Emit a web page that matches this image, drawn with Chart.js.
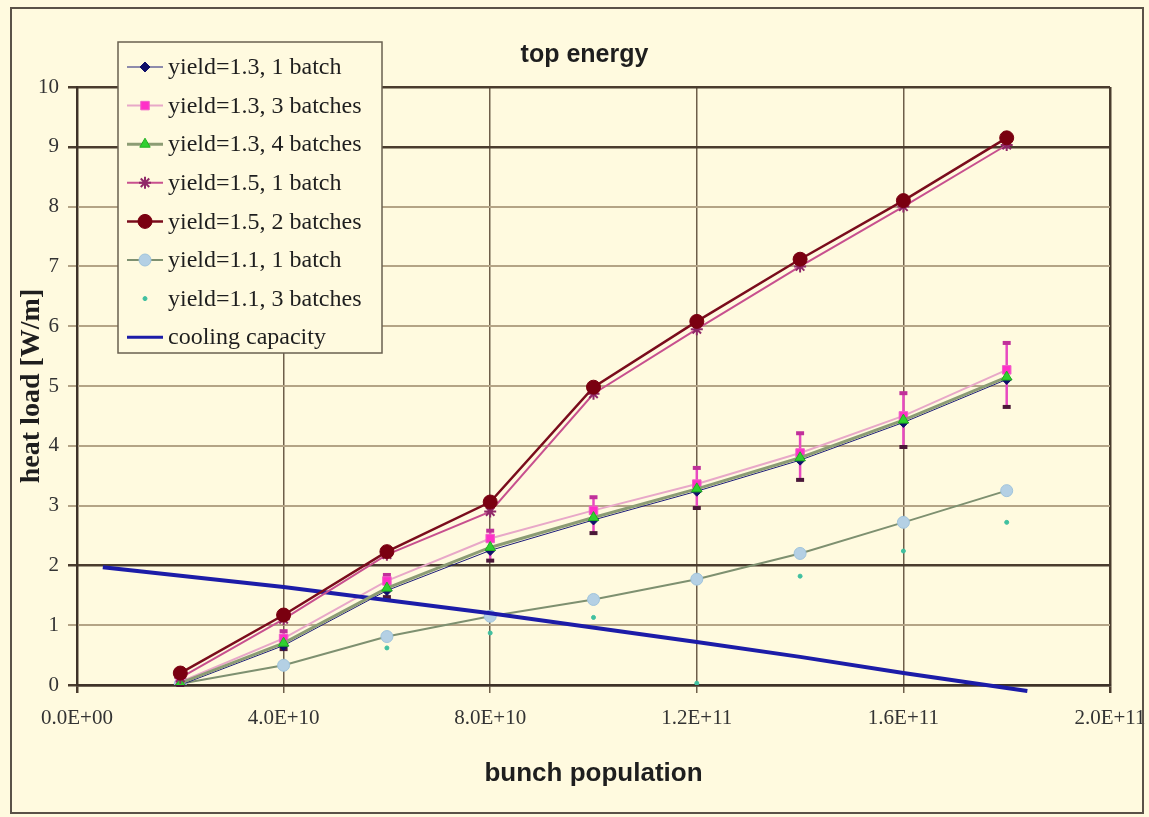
<!DOCTYPE html>
<html>
<head>
<meta charset="utf-8">
<title>top energy</title>
<script src="https://cdn.jsdelivr.net/npm/chart.js@4.4.1/dist/chart.umd.min.js"></script>
<style>
  html, body { margin: 0; padding: 0; background: #fffadf; }
  #wrap { width: 1149px; height: 817px; }
</style>
</head>
<body>
<div id="wrap"><canvas id="heatChart" width="1149" height="817"></canvas></div>
<script>
// bunch population (x) and heat load [W/m] per case
const bunchPop = [2e10, 4e10, 6e10, 8e10, 1e11, 1.2e11, 1.4e11, 1.6e11, 1.8e11];

const y13batch1 = [0.0, 0.66, 1.58, 2.25, 2.76, 3.24, 3.76, 4.39, 5.11];
const y13batch3 = [0.05, 0.78, 1.74, 2.45, 2.92, 3.36, 3.88, 4.5, 5.27];
const y13batch4 = [0.03, 0.7, 1.62, 2.3, 2.8, 3.28, 3.8, 4.43, 5.15];
const y15batch1 = [0.12, 1.1, 2.18, 2.9, 4.87, 5.95, 7.0, 8.0, 9.03];
const y15batch2 = [0.2, 1.17, 2.23, 3.06, 4.98, 6.08, 7.12, 8.1, 9.15];
const y11batch1 = [0.02, 0.33, 0.81, 1.15, 1.43, 1.77, 2.2, 2.72, 3.25];
const y11batch3 = [0.0, 0.27, 0.62, 0.87, 1.13, 0.03, 1.82, 2.24, 2.72];

// spread shown on the yield=1.3, 3 batches points
const errLow  = [0.0, 0.6, 1.47, 2.08, 2.54, 2.96, 3.43, 3.98, 4.65];
const errHigh = [0.1, 0.9, 1.84, 2.58, 3.14, 3.63, 4.21, 4.88, 5.72];

const coolingX = [0.5e10, 4e10, 8e10, 1.2e11, 1.4e11, 1.6e11, 1.84e11];
const coolingY = [1.97, 1.64, 1.2, 0.72, 0.47, 0.2, -0.1];

const xTickLabels = ['0.0E+00', '4.0E+10', '8.0E+10', '1.2E+11', '1.6E+11', '2.0E+11'];
const darkRows = [0, 2, 9, 10];
const chartTitle = 'top energy';

const pts = (xs, ys) => xs.map((x, i) => ({ x: x, y: ys[i] }));

const bgPlugin = {
  id: 'bg',
  beforeDraw(chart) {
    const ctx = chart.ctx;
    ctx.save();
    ctx.fillStyle = '#fffadf';
    ctx.fillRect(0, 0, chart.width, chart.height);
    ctx.restore();
  }
};

const errorBars = {
  id: 'errorBars',
  beforeDatasetsDraw(chart) {
    const ctx = chart.ctx;
    const xs = chart.scales.x, ys = chart.scales.y;
    ctx.save();
    bunchPop.forEach((b, i) => {
      const px = xs.getPixelForValue(b);
      const lo = ys.getPixelForValue(errLow[i]);
      const hi = ys.getPixelForValue(errHigh[i]);
      ctx.strokeStyle = '#e848c0';
      ctx.lineWidth = 2.5;
      ctx.beginPath();
      ctx.moveTo(px, lo);
      ctx.lineTo(px, hi);
      ctx.stroke();
      ctx.lineWidth = 4;
      ctx.strokeStyle = '#c0309a';
      ctx.beginPath();
      ctx.moveTo(px - 4, hi);
      ctx.lineTo(px + 4, hi);
      ctx.stroke();
      ctx.strokeStyle = '#4a1838';
      ctx.beginPath();
      ctx.moveTo(px - 4, lo);
      ctx.lineTo(px + 4, lo);
      ctx.stroke();
    });
    ctx.restore();
  }
};

const frameAndLegend = {
  id: 'frameAndLegend',
  afterDraw(chart) {
    const ctx = chart.ctx;
    const area = chart.chartArea;
    ctx.save();
    ctx.strokeStyle = '#5a5248';
    ctx.lineWidth = 2;
    ctx.strokeRect(11, 8, 1132, 805);

    // title, a little left of the plot centre as in the original
    ctx.fillStyle = '#1e1e1e';
    ctx.font = 'bold 25px "Liberation Sans", Arial, sans-serif';
    ctx.textAlign = 'center';
    ctx.textBaseline = 'middle';
    ctx.fillText(chartTitle, (area.left + area.right) / 2 - 9, 55);

    ctx.fillStyle = '#fffadf';
    ctx.fillRect(118, 42, 264, 311);
    ctx.strokeStyle = '#6a6050';
    ctx.lineWidth = 1.5;
    ctx.strokeRect(118, 42, 264, 311);

    ctx.font = '24px "Liberation Serif", "DejaVu Serif", serif';
    ctx.textAlign = 'left';
    chart.data.datasets.forEach((ds, i) => {
      const y = 67 + i * 38.6;
      if (ds.showLine !== false) {
        ctx.strokeStyle = ds.borderColor;
        ctx.lineWidth = Math.min(ds.borderWidth, 3);
        ctx.beginPath();
        ctx.moveTo(127, y);
        ctx.lineTo(163, y);
        ctx.stroke();
      }
      if (ds.pointRadius > 0) {
        ctx.fillStyle = ds.pointBackgroundColor;
        ctx.strokeStyle = ds.pointBorderColor;
        ctx.lineWidth = ds.pointBorderWidth || 1;
        Chart.helpers.drawPoint(ctx, {
          pointStyle: ds.pointStyle,
          radius: ds.pointRadius,
          rotation: 0,
          borderWidth: ds.pointBorderWidth || 1
        }, 145, y);
      }
      ctx.fillStyle = '#1e1e1e';
      ctx.fillText(ds.label, 168, y + 1);
    });
    ctx.restore();
  }
};

new Chart(document.getElementById('heatChart'), {
  type: 'line',
  data: {
    datasets: [
      {
        label: 'yield=1.3, 1 batch',
        data: pts(bunchPop, y13batch1),
        borderColor: '#1c1c78', borderWidth: 1,
        pointStyle: 'rectRot', pointRadius: 5,
        pointBackgroundColor: '#10106a', pointBorderColor: '#10106a', pointBorderWidth: 1,
        order: 6
      },
      {
        label: 'yield=1.3, 3 batches',
        data: pts(bunchPop, y13batch3),
        borderColor: '#e8a8c8', borderWidth: 2,
        pointStyle: 'rect', pointRadius: 6,
        pointBackgroundColor: '#ff30c8', pointBorderColor: '#f060c8', pointBorderWidth: 1,
        order: 5
      },
      {
        label: 'yield=1.3, 4 batches',
        data: pts(bunchPop, y13batch4),
        borderColor: '#8c9c74', borderWidth: 3,
        pointStyle: 'triangle', pointRadius: 6,
        pointBackgroundColor: '#30d030', pointBorderColor: '#20b020', pointBorderWidth: 1,
        order: 3
      },
      {
        label: 'yield=1.5, 1 batch',
        data: pts(bunchPop, y15batch1),
        borderColor: '#c8508e', borderWidth: 2,
        pointStyle: 'star', pointRadius: 6,
        pointBackgroundColor: '#902868', pointBorderColor: '#902868', pointBorderWidth: 2,
        order: 2
      },
      {
        label: 'yield=1.5, 2 batches',
        data: pts(bunchPop, y15batch2),
        borderColor: '#7a0c1c', borderWidth: 2.5,
        pointStyle: 'circle', pointRadius: 7,
        pointBackgroundColor: '#7a0010', pointBorderColor: '#7a0010', pointBorderWidth: 1,
        order: 1
      },
      {
        label: 'yield=1.1, 1 batch',
        data: pts(bunchPop, y11batch1),
        borderColor: '#7e9070', borderWidth: 2,
        pointStyle: 'circle', pointRadius: 6,
        pointBackgroundColor: '#b4d0e4', pointBorderColor: '#a0c4dc', pointBorderWidth: 1,
        order: 7
      },
      {
        label: 'yield=1.1, 3 batches',
        data: pts(bunchPop, y11batch3),
        showLine: false, borderColor: '#40b8a0', borderWidth: 0,
        pointStyle: 'circle', pointRadius: 2,
        pointBackgroundColor: '#40c0a0', pointBorderColor: '#40c0a0', pointBorderWidth: 1,
        order: 8
      },
      {
        label: 'cooling capacity',
        data: pts(coolingX, coolingY),
        borderColor: '#1c1ca8', borderWidth: 4,
        pointRadius: 0,
        clip: false,
        order: 4
      }
    ]
  },
  options: {
    responsive: false,
    animation: false,
    layout: { padding: { left: 0, right: 39, top: 87, bottom: 0 } },
    plugins: {
      legend: { display: false },
      tooltip: { enabled: false },
      title: { display: false }
    },
    scales: {
      x: {
        type: 'linear',
        min: 0, max: 2e11,
        afterFit: s => { s.height = 132; s.paddingLeft = 0; s.paddingRight = 0; },
        ticks: {
          stepSize: 4e10,
          color: '#333',
          padding: 13,
          maxRotation: 0,
          font: { family: '"Liberation Serif", "DejaVu Serif", serif', size: 21 },
          callback: (v, i) => xTickLabels[i]
        },
        grid: {
          color: c => (c.tick && (c.tick.value === 0 || c.tick.value >= 2e11)) ? '#4a3c2e' : '#6e5e4a',
          lineWidth: c => (c.tick && (c.tick.value === 0 || c.tick.value >= 2e11)) ? 2.5 : 1.5,
          tickLength: 8
        },
        border: { color: '#3e3228', width: 2.5 },
        title: {
          display: true,
          text: 'bunch population',
          color: '#1e1e1e',
          font: { family: '"Liberation Sans", Arial, sans-serif', size: 26, weight: 'bold' },
          padding: { top: 0, bottom: 28 }
        }
      },
      y: {
        min: 0, max: 10,
        afterFit: s => { s.width = 77; s.paddingTop = 0; s.paddingBottom = 0; },
        ticks: {
          stepSize: 1,
          color: '#333',
          padding: 9,
          font: { family: '"Liberation Serif", "DejaVu Serif", serif', size: 21 }
        },
        grid: {
          color: c => darkRows.includes(c.tick.value) ? '#4a3c2e' : '#b4a486',
          lineWidth: c => darkRows.includes(c.tick.value) ? 2.5 : 2,
          tickLength: 9
        },
        border: { color: '#3e3228', width: 2 },
        title: {
          display: true,
          text: 'heat load [W/m]',
          color: '#1e1e1e',
          font: { family: '"Liberation Serif", "DejaVu Serif", serif', size: 28, weight: 'bold' },
          padding: { top: 15, bottom: 0 }
        }
      }
    }
  },
  plugins: [bgPlugin, errorBars, frameAndLegend]
});
</script>
</body>
</html>
